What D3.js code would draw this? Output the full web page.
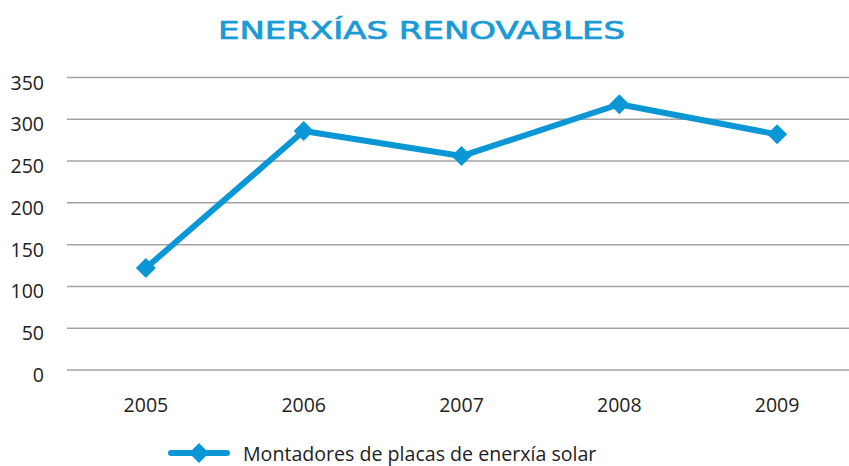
<!DOCTYPE html>
<html>
<head>
<meta charset="utf-8">
<script src="https://cdn.jsdelivr.net/npm/d3@7"></script>
<style>
  body { margin: 0; background: #fff; }
  svg { display: block; }
</style>
</head>
<body>
<div id="chart"></div>
<script>
const title = 'ENERXÍAS RENOVABLES';
const years = ['2005', '2006', '2007', '2008', '2009'];
const montadores = [122, 286, 256, 318, 282];
const yTicks = [0, 50, 100, 150, 200, 250, 300, 350];
const seriesName = 'Montadores de placas de enerxía solar';

const width = 849;
const height = 466;
const blue = '#0b97d6';
const labelFont = '"Open Sans", sans-serif';

const svg = d3.select('#chart')
  .append('svg')
  .attr('width', width)
  .attr('height', height);

// Scales
const x = d3.scalePoint()
  .domain(years)
  .range([67, 856])
  .padding(0.5);

const y = d3.scaleLinear()
  .domain([0, 350])
  .range([370, 77.5]);

// Title
svg.append('text')
  .attr('x', 421.5)
  .attr('y', 38.5)
  .attr('text-anchor', 'middle')
  .attr('textLength', 407)
  .attr('lengthAdjust', 'spacingAndGlyphs')
  .style('font-family', '"DejaVu Sans", sans-serif')
  .style('font-size', '24px')
  .style('fill', '#1a9ad7')
  .style('stroke', '#1a9ad7')
  .style('stroke-width', '0.7px')
  .text(title);

// Gridlines
svg.append('g')
  .selectAll('line')
  .data(yTicks)
  .enter()
  .append('line')
  .attr('x1', 67)
  .attr('x2', width)
  .attr('y1', d => y(d))
  .attr('y2', d => y(d))
  .attr('stroke', '#a3a3a3')
  .attr('stroke-width', 1.5);

// Y labels
svg.append('g')
  .selectAll('text')
  .data(yTicks)
  .enter()
  .append('text')
  .attr('x', 44)
  .attr('y', d => y(d) + 12)
  .attr('text-anchor', 'end')
  .style('font-family', labelFont)
  .style('font-size', '19.5px')
  .style('fill', '#222')
  .text(d => d);

// X labels
svg.append('g')
  .selectAll('text')
  .data(years)
  .enter()
  .append('text')
  .attr('x', d => x(d))
  .attr('y', 412)
  .attr('text-anchor', 'middle')
  .style('font-family', labelFont)
  .style('font-size', '19.5px')
  .style('fill', '#222')
  .text(d => d);

// Line
const line = d3.line()
  .x((d, i) => x(years[i]))
  .y(d => y(d));

svg.append('path')
  .datum(montadores)
  .attr('d', line)
  .attr('fill', 'none')
  .attr('stroke', blue)
  .attr('stroke-width', 6)
  .attr('stroke-linejoin', 'round');

// Diamond markers
const diamond = d3.symbol().type(d3.symbolSquare).size(200);

svg.append('g')
  .selectAll('path')
  .data(montadores)
  .enter()
  .append('path')
  .attr('d', diamond)
  .attr('transform', (d, i) => `translate(${x(years[i])}, ${y(d)}) rotate(45)`)
  .attr('fill', blue);

// Legend
const legend = svg.append('g').attr('transform', 'translate(0, 453)');

legend.append('line')
  .attr('x1', 171)
  .attr('x2', 227)
  .attr('y1', 0)
  .attr('y2', 0)
  .attr('stroke', blue)
  .attr('stroke-width', 6)
  .attr('stroke-linecap', 'round');

legend.append('path')
  .attr('d', diamond)
  .attr('transform', 'translate(199, 0) rotate(45)')
  .attr('fill', blue);

legend.append('text')
  .attr('x', 243)
  .attr('y', 8)
  .style('font-family', labelFont)
  .style('font-size', '19.6px')
  .style('fill', '#222')
  .text(seriesName);
</script>
</body>
</html>
